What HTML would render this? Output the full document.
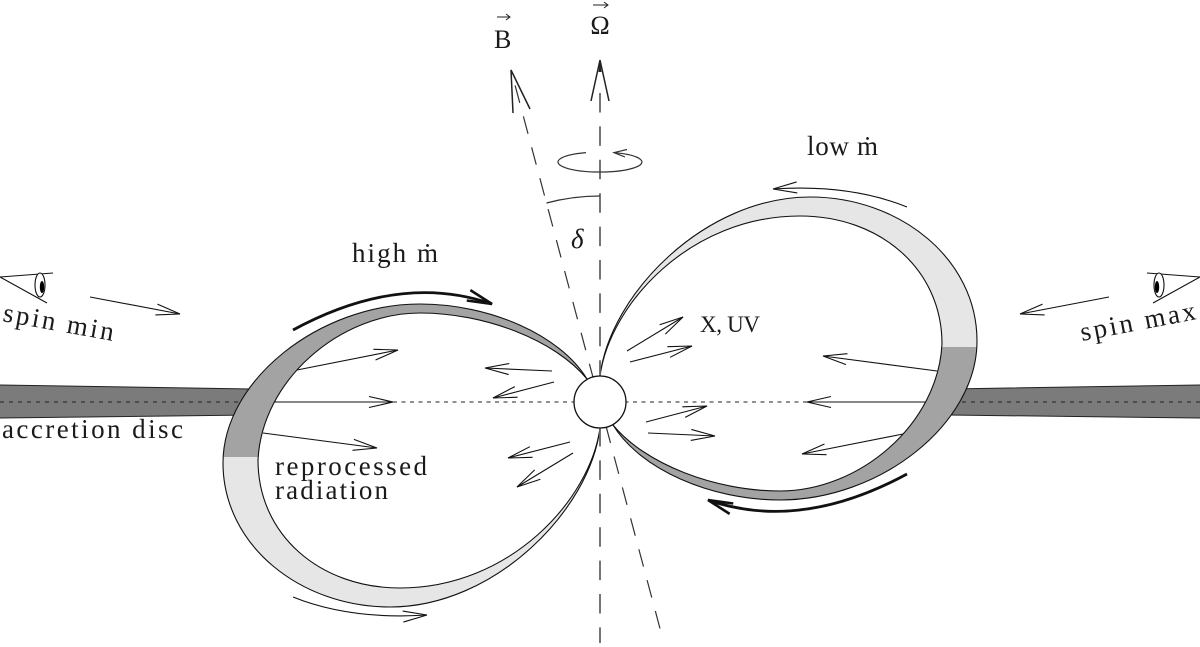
<!DOCTYPE html>
<html><head><meta charset="utf-8"><style>
html,body{margin:0;padding:0;background:#fff;}
svg{display:block;}
text{font-family:"Liberation Serif","DejaVu Serif",serif;fill:#1a1a1a;}
</style></head><body>
<svg width="1200" height="647" viewBox="0 0 1200 647" xmlns="http://www.w3.org/2000/svg">
<defs>
<linearGradient id="bandg" gradientUnits="userSpaceOnUse" x1="0" y1="0" x2="0" y2="1000">
<stop offset="0.457" stop-color="#a3a3a3"/><stop offset="0.457" stop-color="#e6e6e6"/>
</linearGradient>
<marker id="ah" viewBox="-27 -8 29 16" refX="0" refY="0" markerWidth="29" markerHeight="16" markerUnits="userSpaceOnUse" orient="auto">
<path d="M-24,-5.5 L0,0 L-24,5.5" fill="none" stroke="#111" stroke-width="1.1"/>
</marker>
<marker id="ahb" viewBox="-30 -9 33 18" refX="0" refY="0" markerWidth="33" markerHeight="18" markerUnits="userSpaceOnUse" orient="auto">
<path d="M-25,-6 L0,0 L-25,5" fill="none" stroke="#111" stroke-width="2.6" stroke-linejoin="miter"/>
</marker>
</defs>

<!-- discs -->
<path d="M0 385 L252 389 L252 415 L0 418 Z" fill="#7b7b7b"/>
<path d="M0 385 L252 389 M0 418 L252 415" stroke="#222" stroke-width="1" fill="none"/>
<path d="M0 402 L250 402" stroke="#222" stroke-width="1" stroke-dasharray="4 5"/>
<path d="M1200 385 L948 389 L948 415 L1200 418 Z" fill="#7b7b7b"/>
<path d="M1200 385 L948 389 M1200 418 L948 415" stroke="#222" stroke-width="1" fill="none"/>
<path d="M1200 402 L950 402" stroke="#222" stroke-width="1" stroke-dasharray="4 5"/>

<!-- left loop group -->
<g id="L">
<path d="M587 379 C 560 335, 490 304, 420 304 C 320 304, 223 380, 223 463 C 223 545, 300 607, 390 607 C 495 607, 590 510, 600 428 Z" fill="url(#bandg)" stroke="#111" stroke-width="1.1"/>
<path d="M587 379 C 555 340, 485 313, 420 313 C 340 313, 262 380, 258 460 C 258 535, 320 588, 400 588 C 510 588, 590 500, 600 428 Z" fill="#fff" stroke="#111" stroke-width="1.1"/>
<g stroke="#111" stroke-width="1.1" fill="none" marker-end="url(#ah)">
<path d="M297 370 L398 350"/>
<path d="M274 402 L393 402"/>
<path d="M263 433 L377 448"/>
<path d="M552 371 L485 368"/>
<path d="M554 382 L493 398"/>
<path d="M570 442 L508 458"/>
<path d="M573 453 L517 487"/>
<path d="M293 597 Q 350 620 427 615"/>
</g>
<path d="M393 402 L574 402" stroke="#222" stroke-width="1" stroke-dasharray="4 4.5"/>
<path d="M293 330 Q 400 272 492 304" stroke="#111" stroke-width="2.8" fill="none" marker-end="url(#ahb)"/>
</g>
<use href="#L" transform="rotate(180 600 402)"/>

<!-- axis lines -->
<path d="M600 93 L600 643" stroke="#666" stroke-width="1.8" stroke-dasharray="19.5 13.9"/>
<path d="M591 101 L600 60 L609 101" stroke="#222" stroke-width="1.5" fill="none"/>
<path d="M598.5 72 L600 60 L601.5 72 Z" fill="#222"/>
<path d="M511 70 L662 636" stroke="#333" stroke-width="1.2" stroke-dasharray="18 14" stroke-dashoffset="-16"/>
<path d="M513 113 L511 70 L530 109" stroke="#222" stroke-width="1.5" fill="none"/>

<!-- rotation ellipse -->
<path d="M615 152.7 A42 10 0 1 1 586 152.6" stroke="#333" stroke-width="1.2" fill="none"/>
<path d="M627 149.5 L614 152.6 L625 157" stroke="#333" stroke-width="1.2" fill="none"/>

<!-- delta arc -->
<path d="M546.5 203 A206 206 0 0 1 600 196" stroke="#333" stroke-width="1.2" fill="none"/>
<text x="571" y="248" font-size="27" font-style="italic">δ</text>

<!-- star -->
<circle cx="600" cy="402" r="26" fill="#fff" stroke="#111" stroke-width="1.3"/>

<!-- vector labels -->
<text x="494" y="48" font-size="26">B</text>
<path d="M497 17 L510 17 M506 14 L510 17 L506 20" stroke="#222" stroke-width="1" fill="none"/>
<text x="600" y="34" font-size="26" text-anchor="middle">Ω</text>
<path d="M593 5 L608 5 M604 2 L608 5 L604 8" stroke="#222" stroke-width="1" fill="none"/>

<!-- eyes -->
<path d="M53 273 L0 277 L47 303" stroke="#111" stroke-width="1.1" fill="none"/>
<ellipse cx="40" cy="285" rx="5" ry="12" fill="#fff" stroke="#111" stroke-width="1.1"/>
<ellipse cx="42" cy="287" rx="2.2" ry="6" fill="#000"/>
<path d="M90 297 L180 314" stroke="#111" stroke-width="1.1" marker-end="url(#ah)"/>

<path d="M1147 273 L1200 277 L1153 303" stroke="#111" stroke-width="1.1" fill="none"/>
<ellipse cx="1159" cy="285" rx="5" ry="12" fill="#fff" stroke="#111" stroke-width="1.1"/>
<ellipse cx="1157" cy="287" rx="2.2" ry="6" fill="#000"/>
<path d="M1109 297 L1020 314" stroke="#111" stroke-width="1.1" marker-end="url(#ah)"/>

<!-- text labels -->
<text transform="translate(2,321) rotate(10.2)" font-size="27" textLength="112" lengthAdjust="spacing">spin min</text>
<text transform="translate(1082,341) rotate(-10.8)" font-size="27" textLength="117" lengthAdjust="spacing">spin max</text>
<text x="2" y="438" font-size="27" textLength="181" lengthAdjust="spacing">accretion disc</text>
<text x="352" y="262" font-size="27" textLength="86" lengthAdjust="spacing">high ṁ</text>
<text x="807" y="155" font-size="27" textLength="71" lengthAdjust="spacing">low ṁ</text>
<text x="700" y="332" font-size="23" textLength="60" lengthAdjust="spacing">X, UV</text>
<text x="275" y="475" font-size="27" textLength="152" lengthAdjust="spacing">reprocessed</text>
<text x="275" y="499" font-size="27" textLength="113" lengthAdjust="spacing">radiation</text>
</svg>
</body></html>
